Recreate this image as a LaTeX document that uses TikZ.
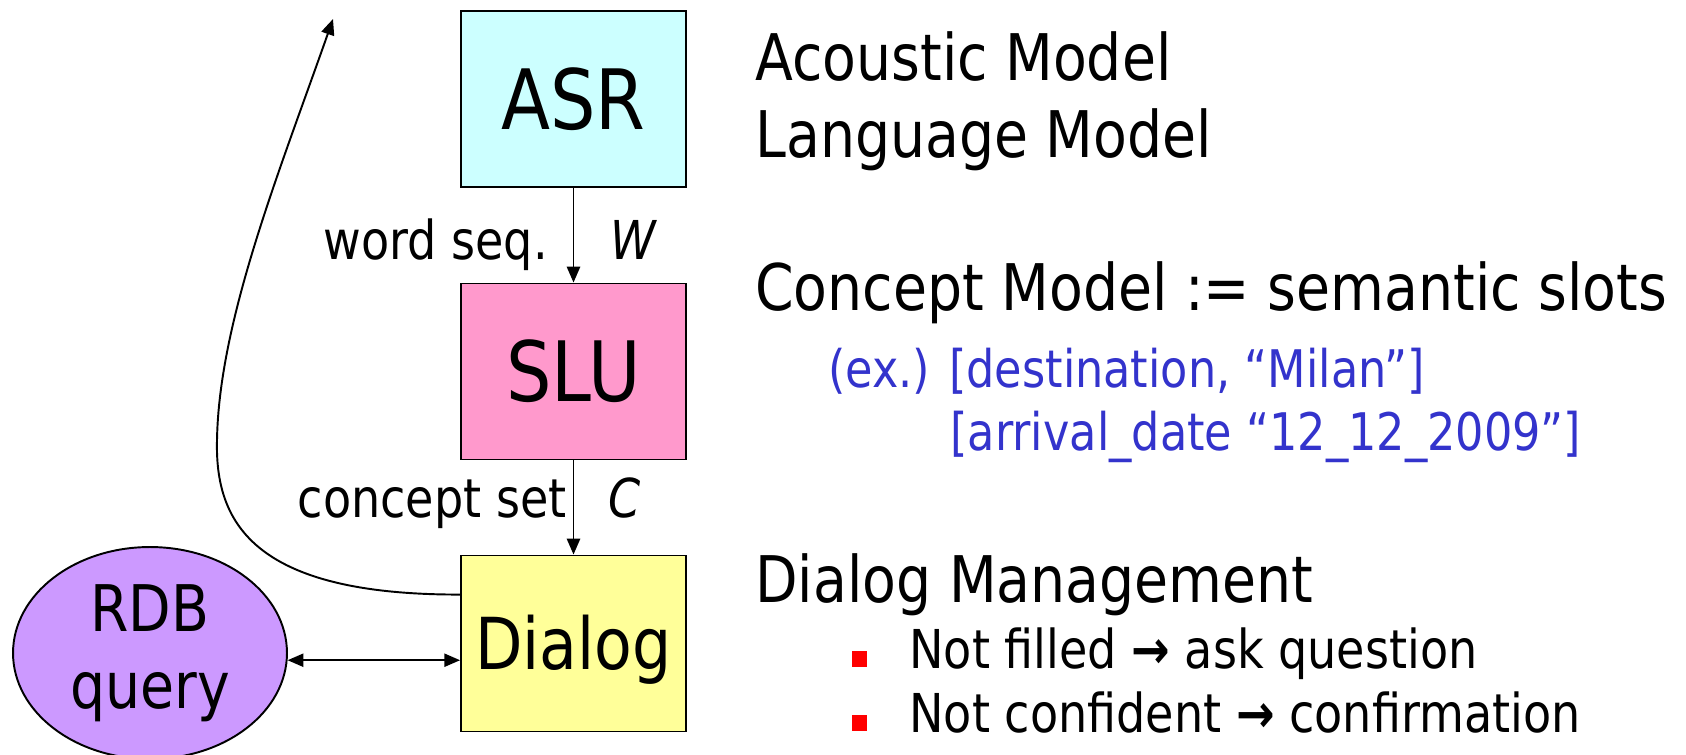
\documentclass[tikz,border=0pt]{standalone}
\usepackage{fontspec}
\setmainfont{DejaVu Sans}[FakeStretch=0.86]
\usetikzlibrary{arrows.meta,shapes.geometric}

\definecolor{asrfill}{HTML}{CCFFFF}
\definecolor{slufill}{HTML}{FF99CC}
\definecolor{dlgfill}{HTML}{FFFF99}
\definecolor{rdbfill}{HTML}{CC99FF}
\definecolor{exblue}{HTML}{3333CC}
\definecolor{bulletred}{HTML}{FF0000}

\newcommand{\thenarrow}{ {\bfseries →} }

\tikzset{
  module/.style={draw=black, line width=1.1pt, minimum width=4.5cm,
    minimum height=3.52cm, inner sep=0pt, text depth=0pt},
  bigfont/.style={font=\fontsize{47.4}{50}\selectfont, text height=34.6pt},
  dlgfont/.style={font=\fontsize{40.8}{44}\selectfont, text height=29.7pt},
  flow/.style={line width=1.1pt, -{Triangle[length=9pt,width=7.5pt]}},
  label/.style={font=\fontsize{30.5}{34}\selectfont, inner sep=0pt},
  heading/.style={font=\fontsize{36.6}{43.6}\selectfont, inner sep=0pt, anchor=base west},
  example/.style={font=\fontsize{29.5}{33}\selectfont, inner sep=0pt,
    text=exblue, anchor=base west},
  item/.style={label, anchor=base west},
  bulletmark/.style={fill=bulletred, draw=none, minimum width=0.3cm,
    minimum height=0.32cm, inner sep=0pt}
}

\begin{document}
\begin{tikzpicture}[x=0.02cm, y=-0.02cm]
  \useasboundingbox (0,0) rectangle (1686,754);

  % processing chain
  \node[module, bigfont, fill=asrfill] (asr) at (573.5,99) {ASR};
  \node[module, bigfont, fill=slufill] (slu) at (573.5,371.5) {SLU};
  \node[module, dlgfont, fill=dlgfill] (dialog) at (573.5,643.5) {Dialog};
  \node[ellipse, draw=black, line width=1.1pt, fill=rdbfill,
        minimum width=5.48cm, minimum height=4.24cm, inner sep=0pt,
        align=center, font=\fontsize{36.6}{43.6}\selectfont] (rdb) at (150,653) {RDB\\query};

  \draw[flow] (asr) -- (slu);
  \draw[flow] (slu) -- (dialog);
  \draw[line width=1.1pt, {Triangle[length=9pt,width=7.5pt]}-{Triangle[length=9pt,width=7.5pt]}]
    (rdb.-3) -- (rdb.-3 -| dialog.west);

  % feedback from the dialog manager back to the user
  \coordinate (top) at (333,19);
  \draw[flow] (dialog.north west) ++(0,40) coordinate (start)
    .. controls (250,595) and (215,520) .. (217,440)
    .. controls (219,320) and (280,170) .. (top);

  % connector labels
  \node[label, anchor=base east] (wlabel) at (548,259) {word seq.};
  \node[label, anchor=base west] (wsym) at (610,259) {\itshape W};
  \node[label, anchor=base east] (clabel) at (567,517) {concept set};
  \node[label, anchor=base west] (csym) at (608,517) {\itshape C};

  % model descriptions
  \node[heading] (am) at (755,80) {Acoustic Model};
  \node[heading] (lm) at (755,157) {Language Model};
  \node[heading] (cm) at (755,310) {Concept Model := semantic slots};
  \node[example] (ex1) at (828,387) {(ex.) [destination, “Milan”]};
  \node[example] (ex2) at (950,450) {[arrival\_date “12\_12\_2009”]};
  \node[heading] (dm) at (755,602) {Dialog Management};

  \node[bulletmark] (b1) at (859.5,658.5) {};
  \node[item] (i1) at (909,668) {Not filled\thenarrow ask question};
  \node[bulletmark] (b2) at (859.5,722.5) {};
  \node[item] (i2) at (909,732) {Not confident\thenarrow confirmation};
\end{tikzpicture}
\end{document}
